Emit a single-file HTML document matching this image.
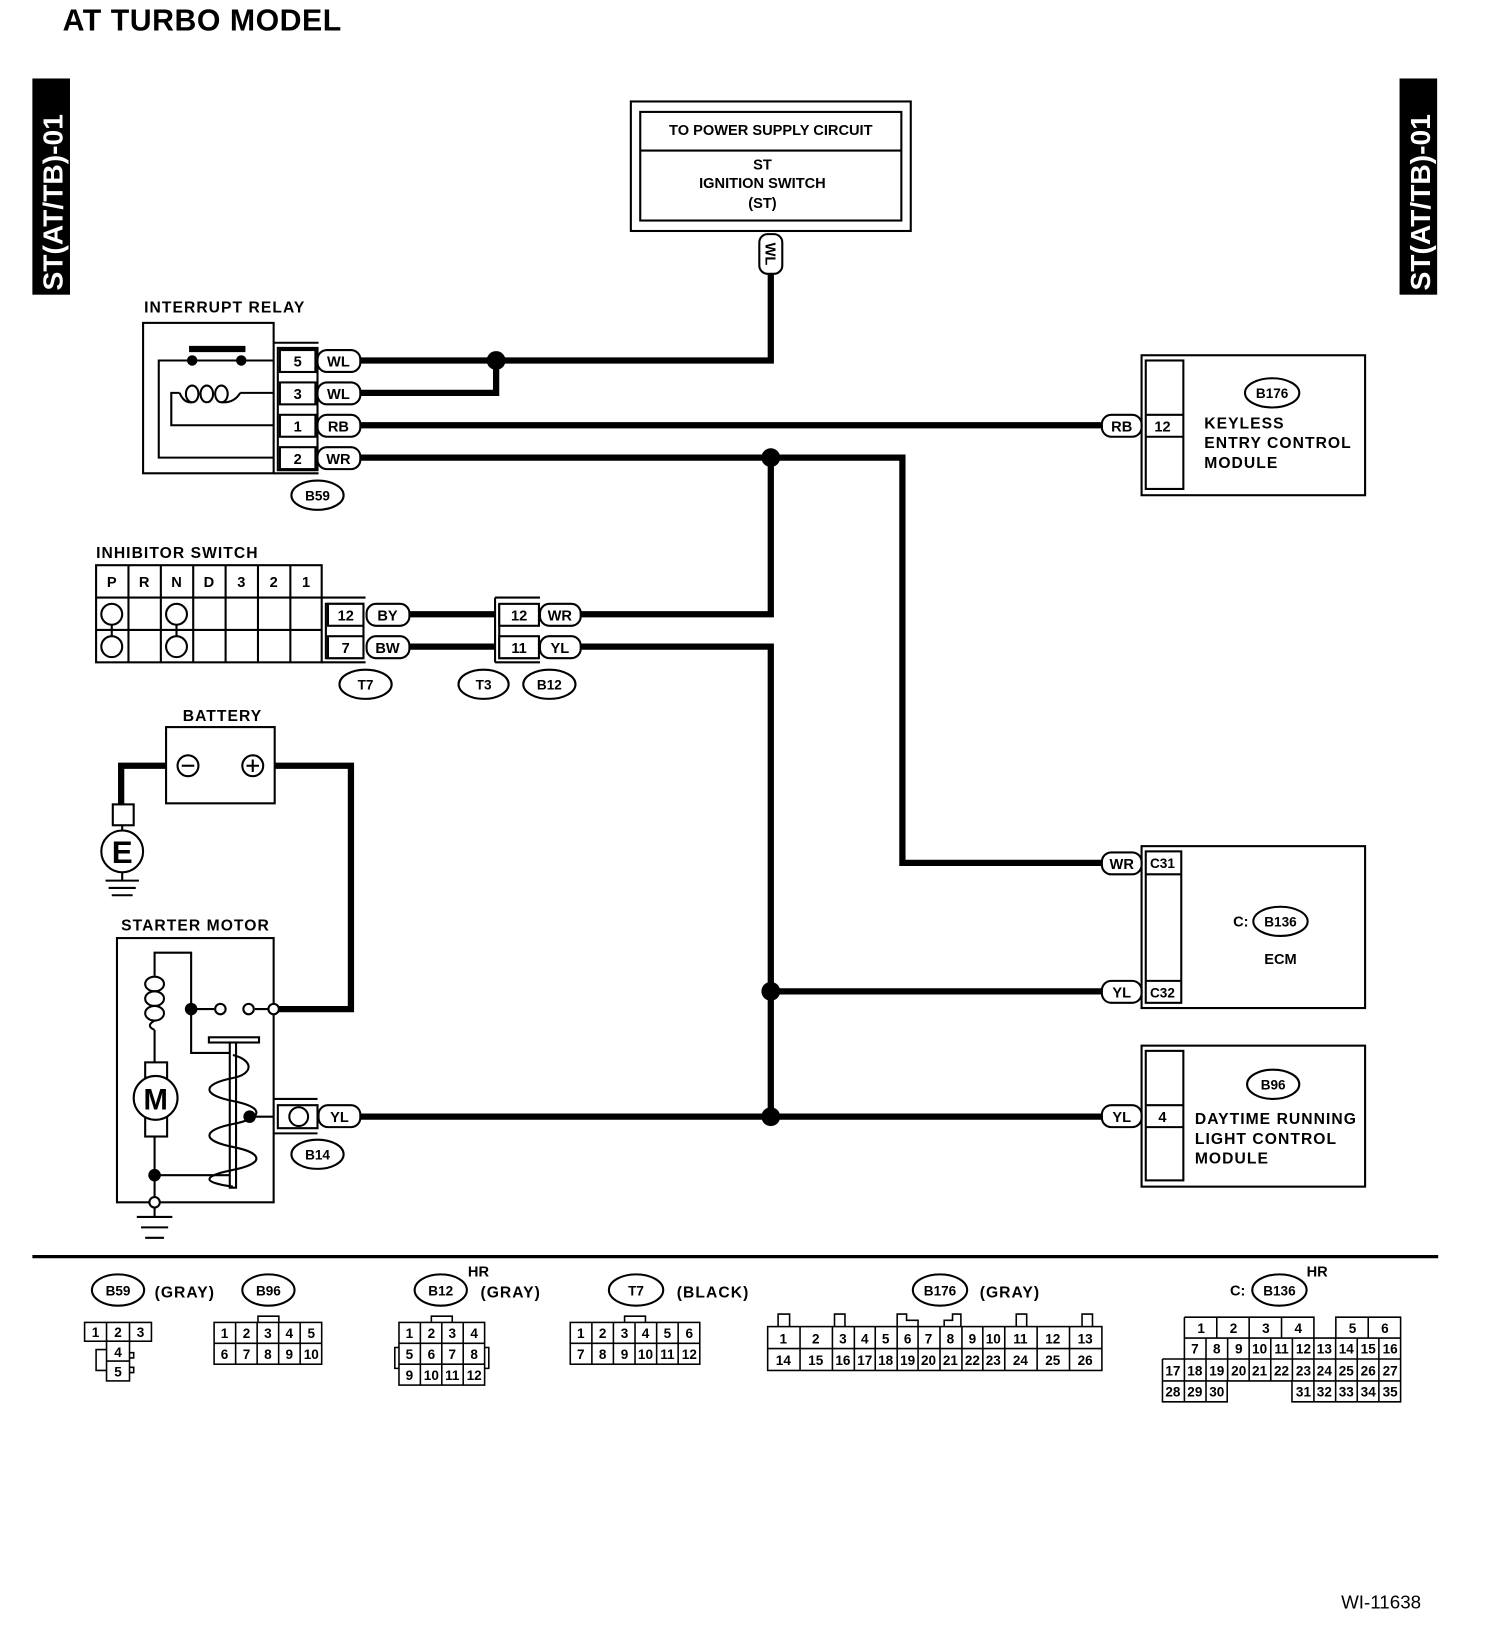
<!DOCTYPE html>
<html><head><meta charset="utf-8"><style>
html,body{margin:0;padding:0;background:#fff}
svg{display:block}
text{font-family:"Liberation Sans",sans-serif;font-weight:bold;fill:#000}
.l{font-size:15px;letter-spacing:1px}
.m{text-anchor:middle}
.p{font-size:14px;text-anchor:middle}
.c{font-size:13px;text-anchor:middle;font-weight:normal}
.w{stroke:#000;stroke-width:6;fill:none}
.s{stroke:#000;stroke-width:2;fill:none}
.f{stroke:#000;stroke-width:2;fill:#fff}
</style></head><body>
<svg width="1504" height="1638" viewBox="0 0 1440 1568" xmlns="http://www.w3.org/2000/svg">
<text x="60" y="29" style="font-size:29px;letter-spacing:0.5px">AT TURBO MODEL</text>
<rect x="31" y="75" width="36" height="207" fill="#000"/>
<text transform="translate(60,278) rotate(-90)" style="font-size:27px;fill:#fff">ST(AT/TB)-01</text>
<rect x="1340" y="75" width="36" height="207" fill="#000"/>
<text transform="translate(1369,278) rotate(-90)" style="font-size:27px;fill:#fff">ST(AT/TB)-01</text>

<!-- power box -->
<rect x="604" y="97" width="268" height="124" class="s" stroke-width="3"/>
<rect x="613" y="107" width="250" height="104" class="s" stroke-width="3"/>
<line x1="613" y1="144" x2="863" y2="144" class="s"/>
<text x="738" y="129" class="p">TO POWER SUPPLY CIRCUIT</text>
<text x="730" y="162" class="p">ST</text>
<text x="730" y="180" class="p">IGNITION SWITCH</text>
<text x="730" y="199" class="p">(ST)</text>

<!-- wires -->
<path class="w" d="M738 262 V345 H345 M345 376 H475 V345 M345 407 H1055 M345 438 H864 V826 H1055 M738 438 V588 H556 M392 588 H474 M392 619 H474 M556 619 H738 V1069 M738 949 H1055 M345 1069 H1055"/>
<path class="w" d="M263 733 H336 V966 H262 M159 733 H116 V770"/>
<circle cx="475" cy="345" r="9"/><circle cx="738" cy="438" r="9"/>
<circle cx="738" cy="949" r="9"/><circle cx="738" cy="1069" r="9"/>
<rect x="727" y="224" width="22" height="38" rx="8" class="f"/>
<text transform="translate(733,243) rotate(90)" class="p">WL</text>

<!-- interrupt relay -->
<text x="138" y="299" class="l">INTERRUPT RELAY</text>
<rect x="137" y="309" width="125" height="144" class="s" stroke-width="3"/>
<path class="s" d="M262 345 H152 V438 H262 M262 407 H164 V376 H172 M230 376 H262"/>
<g class="s"><ellipse cx="184" cy="377" rx="6" ry="8"/><ellipse cx="198" cy="377" rx="6" ry="8"/><ellipse cx="212" cy="377" rx="6" ry="8"/></g>
<path class="s" d="M172 376 Q176 386 184 385 M212 385 Q224 386 230 376"/>
<rect x="181" y="331" width="54" height="6"/>
<circle cx="184" cy="345" r="5"/><circle cx="231" cy="345" r="5"/>
<path class="s" d="M262 328 H305 M262 453 H305 M266 333 V450 H304 V333 Z"/>
<g class="f"><rect x="268" y="335" width="34" height="21"/><rect x="268" y="366" width="34" height="21"/><rect x="268" y="397" width="34" height="21"/><rect x="268" y="428" width="34" height="21"/></g>
<text x="285" y="351" class="p">5</text><text x="285" y="382" class="p">3</text><text x="285" y="413" class="p">1</text><text x="285" y="444" class="p">2</text>
<g class="f"><rect x="304" y="335" width="41" height="21" rx="9"/><rect x="304" y="366" width="41" height="21" rx="9"/><rect x="304" y="397" width="41" height="21" rx="9"/><rect x="304" y="428" width="41" height="21" rx="9"/></g>
<text x="324" y="351" class="p">WL</text><text x="324" y="382" class="p">WL</text><text x="324" y="413" class="p">RB</text><text x="324" y="444" class="p">WR</text>
<ellipse cx="304" cy="474" rx="25" ry="14" class="s"/><text x="304" y="479" class="p" style="font-size:13px">B59</text>

<!-- keyless -->
<rect x="1093" y="340" width="214" height="134" class="s" stroke-width="3"/>
<rect x="1097" y="345" width="36" height="123" class="s"/>
<line x1="1097" y1="397" x2="1133" y2="397" class="s"/><line x1="1097" y1="418" x2="1133" y2="418" class="s"/>
<text x="1113" y="413" class="p">12</text>
<rect x="1055" y="397" width="38" height="21" rx="9" class="f"/><text x="1074" y="413" class="p">RB</text>
<ellipse cx="1218" cy="376" rx="26" ry="14" class="s"/><text x="1218" y="381" class="p" style="font-size:13px">B176</text>
<text x="1153" y="410" class="l">KEYLESS</text><text x="1153" y="429" class="l">ENTRY CONTROL</text><text x="1153" y="448" class="l">MODULE</text>

<!-- inhibitor -->
<text x="92" y="534" class="l">INHIBITOR SWITCH</text>
<rect x="92" y="541" width="216" height="93" class="s"/>
<path class="s" d="M92 572 H308 M92 603 H308 M123 541 V634 M154 541 V634 M185 541 V634 M216 541 V634 M247 541 V634 M278 541 V634"/>
<text x="107" y="562" class="p">P</text><text x="138" y="562" class="p">R</text><text x="169" y="562" class="p">N</text><text x="200" y="562" class="p">D</text><text x="231" y="562" class="p">3</text><text x="262" y="562" class="p">2</text><text x="293" y="562" class="p">1</text>
<g class="s"><circle cx="107" cy="588" r="10"/><circle cx="107" cy="619" r="10"/><circle cx="169" cy="588" r="10"/><circle cx="169" cy="619" r="10"/></g>
<path class="s" d="M107 598 V609 M169 598 V609 M308 572 H350 M308 634 H350 M312 578 V630 H348 V578 Z"/>
<g class="f"><rect x="314" y="578" width="34" height="21"/><rect x="314" y="609" width="34" height="21"/></g>
<text x="331" y="594" class="p">12</text><text x="331" y="625" class="p">7</text>
<g class="f"><rect x="351" y="578" width="41" height="21" rx="9"/><rect x="351" y="609" width="41" height="21" rx="9"/></g>
<text x="371" y="594" class="p">BY</text><text x="371" y="625" class="p">BW</text>
<path class="s" d="M474 572 H517 M474 634 H517 M474 572 V634 M478 578 V630 H516"/>
<g class="f"><rect x="478" y="578" width="38" height="21"/><rect x="478" y="609" width="38" height="21"/></g>
<text x="497" y="594" class="p">12</text><text x="497" y="625" class="p">11</text>
<g class="f"><rect x="517" y="578" width="39" height="21" rx="9"/><rect x="517" y="609" width="39" height="21" rx="9"/></g>
<text x="536" y="594" class="p">WR</text><text x="536" y="625" class="p">YL</text>
<ellipse cx="350" cy="655" rx="25" ry="14" class="s"/><text x="350" y="660" class="p" style="font-size:13px">T7</text>
<ellipse cx="463" cy="655" rx="24" ry="14" class="s"/><text x="463" y="660" class="p" style="font-size:13px">T3</text>
<ellipse cx="526" cy="655" rx="25" ry="14" class="s"/><text x="526" y="660" class="p" style="font-size:13px">B12</text>

<!-- battery -->
<text x="175" y="690" class="l">BATTERY</text>
<rect x="159" y="696" width="104" height="73" class="s"/>
<circle cx="180" cy="733" r="10" class="f"/><line x1="174" y1="733" x2="186" y2="733" class="s"/>
<circle cx="242" cy="733" r="10" class="f"/><path class="s" d="M236 733 H248 M242 727 V739"/>
<rect x="108" y="770" width="20" height="20" class="f"/>
<line x1="117" y1="790" x2="117" y2="796" class="s"/>
<circle cx="117" cy="815" r="20" class="f" stroke-width="3"/>
<text x="117" y="826" class="m" style="font-size:30px">E</text>
<path class="s" d="M117 835 V843 M101 843 H133 M104 850 H130 M107 857 H127"/>

<!-- starter -->
<text x="116" y="891" class="l">STARTER MOTOR</text>
<rect x="112" y="898" width="150" height="253" class="s" stroke-width="3"/>
<path class="s" d="M148 1017 V986 M148 934 V912 H183 V1008 H223"/>
<g class="s"><ellipse cx="148" cy="942" rx="9" ry="7"/><ellipse cx="148" cy="956" rx="9" ry="7"/><ellipse cx="148" cy="970" rx="9" ry="7"/></g>
<path class="s" d="M148 977 Q139 982 148 986"/>
<rect x="139" y="1017" width="21" height="71" class="f"/>
<circle cx="149" cy="1051" r="21" class="f" stroke-width="3"/>
<text x="149" y="1062" class="m" style="font-size:28px">M</text>
<path class="s" d="M148 1088 V1151 M148 1125 H223 M183 966 H205 M244 966 H262 M239 1069 H262"/>
<circle cx="183" cy="966" r="6"/><circle cx="211" cy="966" r="5" class="f"/><circle cx="238" cy="966" r="5" class="f"/><circle cx="262" cy="966" r="5" class="f"/>
<rect x="200" y="993" width="48" height="5" class="f"/>
<rect x="220" y="998" width="6" height="139" class="f"/>
<path class="s" d="M223 1010 c20 5 20 18 0 22 c-30 6 -30 16 0 22 c30 6 30 16 0 22 c-30 6 -30 16 0 22 c30 6 30 16 0 22 c-30 6 -30 12 0 16"/>
<circle cx="239" cy="1069" r="6"/><circle cx="148" cy="1125" r="6"/>
<circle cx="148" cy="1151" r="5" class="f"/>
<path class="s" d="M148 1156 V1165 M131 1165 H165 M135 1175 H161 M139 1185 H157"/>
<path class="s" d="M262 1052 H304 M262 1085 H304 M266 1058 V1080 H304 V1058 Z"/>
<circle cx="286" cy="1069" r="9" class="s"/>
<rect x="305" y="1058" width="40" height="21" rx="9" class="f"/><text x="325" y="1074" class="p">YL</text>
<ellipse cx="304" cy="1105" rx="25" ry="14" class="s"/><text x="304" y="1110" class="p" style="font-size:13px">B14</text>

<!-- ECM -->
<rect x="1093" y="810" width="214" height="155" class="s" stroke-width="3"/>
<rect x="1097" y="815" width="34" height="145" class="s"/>
<path class="s" d="M1097 837 H1131 M1097 939 H1131"/>
<text x="1113" y="831" class="p" style="font-size:13px">C31</text><text x="1113" y="955" class="p" style="font-size:13px">C32</text>
<rect x="1055" y="816" width="38" height="21" rx="9" class="f"/><text x="1074" y="832" class="p">WR</text>
<rect x="1055" y="939" width="38" height="21" rx="9" class="f"/><text x="1074" y="955" class="p">YL</text>
<text x="1188" y="887" class="p">C:</text>
<ellipse cx="1226" cy="882" rx="26" ry="14" class="s"/><text x="1226" y="887" class="p" style="font-size:13px">B136</text>
<text x="1226" y="923" class="p">ECM</text>

<!-- DRL -->
<rect x="1093" y="1001" width="214" height="135" class="s" stroke-width="3"/>
<rect x="1097" y="1006" width="36" height="124" class="s"/>
<path class="s" d="M1097 1058 H1133 M1097 1079 H1133"/>
<text x="1113" y="1074" class="p">4</text>
<rect x="1055" y="1058" width="38" height="21" rx="9" class="f"/><text x="1074" y="1074" class="p">YL</text>
<ellipse cx="1219" cy="1038" rx="25" ry="14" class="s"/><text x="1219" y="1043" class="p" style="font-size:13px">B96</text>
<text x="1144" y="1076" class="l">DAYTIME RUNNING</text><text x="1144" y="1095" class="l">LIGHT CONTROL</text><text x="1144" y="1114" class="l">MODULE</text>

<line x1="31" y1="1203" x2="1377" y2="1203" stroke="#000" stroke-width="3"/>

<!-- bottom connectors -->
<ellipse cx="113" cy="1235" rx="25" ry="15" class="s"/><text x="113" y="1240" class="p" style="font-size:13px">B59</text>
<text x="148" y="1242" class="l">(GRAY)</text>
<ellipse cx="257" cy="1235" rx="25" ry="15" class="s"/><text x="257" y="1240" class="p" style="font-size:13px">B96</text>
<ellipse cx="422" cy="1235" rx="25" ry="15" class="s"/><text x="422" y="1240" class="p" style="font-size:13px">B12</text>
<text x="448" y="1222" style="font-size:14px">HR</text><text x="460" y="1242" class="l">(GRAY)</text>
<ellipse cx="609" cy="1235" rx="26" ry="15" class="s"/><text x="609" y="1240" class="p" style="font-size:13px">T7</text>
<text x="648" y="1242" class="l">(BLACK)</text>
<ellipse cx="900" cy="1235" rx="26" ry="15" class="s"/><text x="900" y="1240" class="p" style="font-size:13px">B176</text>
<text x="938" y="1242" class="l">(GRAY)</text>
<text x="1185" y="1240" class="p">C:</text>
<ellipse cx="1225" cy="1235" rx="26" ry="15" class="s"/><text x="1225" y="1240" class="p" style="font-size:13px">B136</text>
<text x="1251" y="1222" style="font-size:14px">HR</text>

<g stroke="#000" stroke-width="1.5" fill="none">
<rect x="81" y="1266" width="64" height="18"/><path d="M102 1266 V1284 M124 1266 V1284"/>
<rect x="102" y="1284" width="22" height="38"/><path d="M102 1303 H124 M102 1292 H92 V1312 H102 M124 1295 H128 V1300 H124 M124 1309 H128 V1314 H124"/>
<rect x="205" y="1266" width="103" height="40"/><path d="M205 1286 H308 M225.6 1266 V1306 M246.2 1266 V1306 M266.8 1266 V1306 M287.4 1266 V1306 M247 1266 V1260 H267 V1266"/>
<rect x="382" y="1266" width="82" height="60"/><path d="M382 1286 H464 M382 1306 H464 M402.5 1266 V1326 M423 1266 V1326 M443.5 1266 V1326 M413 1266 V1260 H433 V1266 M382 1290 H378 V1310 H382 M464 1290 H468 V1310 H464"/>
<rect x="546" y="1266" width="124" height="40"/><path d="M546 1286 H670 M566.7 1266 V1306 M587.3 1266 V1306 M608 1266 V1306 M628.7 1266 V1306 M649.3 1266 V1306 M598 1266 V1260 H618 V1266"/>
<rect x="735" y="1270" width="320" height="42"/><path d="M735 1291 H1055 M766 1270 V1312 M797 1270 V1312 M818 1270 V1312 M838 1270 V1312 M859 1270 V1312 M879 1270 V1312 M900 1270 V1312 M921 1270 V1312 M941 1270 V1312 M962 1270 V1312 M993 1270 V1312 M1024 1270 V1312"/>
<path d="M745 1270 V1258 H756 V1270 M799 1270 V1258 H809 V1270 M859 1270 V1258 H868 V1264 H879 V1270 M904 1270 V1264 H912 V1258 H920 V1270 M973 1270 V1258 H983 V1270 M1036 1270 V1258 H1046 V1270"/>
<path d="M1134 1261 H1258 V1281 M1134 1261 V1301 M1165 1261 V1281 M1196 1261 V1281 M1227 1261 V1281 M1279 1281 V1261 H1341 V1342 H1237 V1322 M1310 1261 V1281 M1134 1281 H1341 M1113 1301 H1341 M1113 1301 V1342 H1175 V1322 M1113 1322 H1341"/>
<path d="M1154.7 1281 V1322 M1175.4 1281 V1322 M1196 1281 V1322 M1216.7 1281 V1322 M1237.4 1281 V1322 M1258 1281 V1342 M1278.8 1281 V1342 M1299.5 1281 V1342 M1320.2 1281 V1342 M1134 1301 V1342 M1154.7 1322 V1342"/>
</g>
<g class="c">
<text x="91.5" y="1280">1</text><text x="113" y="1280">2</text><text x="134.5" y="1280">3</text><text x="113" y="1299">4</text><text x="113" y="1318">5</text>
<text x="215" y="1281">1</text><text x="236" y="1281">2</text><text x="256.5" y="1281">3</text><text x="277" y="1281">4</text><text x="298" y="1281">5</text>
<text x="215" y="1301">6</text><text x="236" y="1301">7</text><text x="256.5" y="1301">8</text><text x="277" y="1301">9</text><text x="298" y="1301">10</text>
<text x="392" y="1281">1</text><text x="413" y="1281">2</text><text x="433" y="1281">3</text><text x="454" y="1281">4</text>
<text x="392" y="1301">5</text><text x="413" y="1301">6</text><text x="433" y="1301">7</text><text x="454" y="1301">8</text>
<text x="392" y="1321">9</text><text x="413" y="1321">10</text><text x="433" y="1321">11</text><text x="454" y="1321">12</text>
<text x="556" y="1281">1</text><text x="577" y="1281">2</text><text x="598" y="1281">3</text><text x="618" y="1281">4</text><text x="639" y="1281">5</text><text x="660" y="1281">6</text>
<text x="556" y="1301">7</text><text x="577" y="1301">8</text><text x="598" y="1301">9</text><text x="618" y="1301">10</text><text x="639" y="1301">11</text><text x="660" y="1301">12</text>
<text x="750" y="1286">1</text><text x="781" y="1286">2</text><text x="807" y="1286">3</text><text x="828" y="1286">4</text><text x="848" y="1286">5</text><text x="869" y="1286">6</text><text x="889" y="1286">7</text><text x="910" y="1286">8</text><text x="931" y="1286">9</text><text x="951" y="1286">10</text><text x="977" y="1286">11</text><text x="1008" y="1286">12</text><text x="1039" y="1286">13</text>
<text x="750" y="1307">14</text><text x="781" y="1307">15</text><text x="807" y="1307">16</text><text x="828" y="1307">17</text><text x="848" y="1307">18</text><text x="869" y="1307">19</text><text x="889" y="1307">20</text><text x="910" y="1307">21</text><text x="931" y="1307">22</text><text x="951" y="1307">23</text><text x="977" y="1307">24</text><text x="1008" y="1307">25</text><text x="1039" y="1307">26</text>
<text x="1150" y="1276">1</text><text x="1181" y="1276">2</text><text x="1212" y="1276">3</text><text x="1243" y="1276">4</text><text x="1295" y="1276">5</text><text x="1326" y="1276">6</text>
<text x="1144" y="1296">7</text><text x="1165" y="1296">8</text><text x="1186" y="1296">9</text><text x="1206" y="1296">10</text><text x="1227" y="1296">11</text><text x="1248" y="1296">12</text><text x="1268" y="1296">13</text><text x="1289" y="1296">14</text><text x="1310" y="1296">15</text><text x="1331" y="1296">16</text>
<text x="1123" y="1317">17</text><text x="1144" y="1317">18</text><text x="1165" y="1317">19</text><text x="1186" y="1317">20</text><text x="1206" y="1317">21</text><text x="1227" y="1317">22</text><text x="1248" y="1317">23</text><text x="1268" y="1317">24</text><text x="1289" y="1317">25</text><text x="1310" y="1317">26</text><text x="1331" y="1317">27</text>
<text x="1123" y="1337">28</text><text x="1144" y="1337">29</text><text x="1165" y="1337">30</text><text x="1248" y="1337">31</text><text x="1268" y="1337">32</text><text x="1289" y="1337">33</text><text x="1310" y="1337">34</text><text x="1331" y="1337">35</text>
</g>
<text x="1284" y="1540" style="font-size:18px;font-weight:normal">WI-11638</text>
</svg>
</body></html>
